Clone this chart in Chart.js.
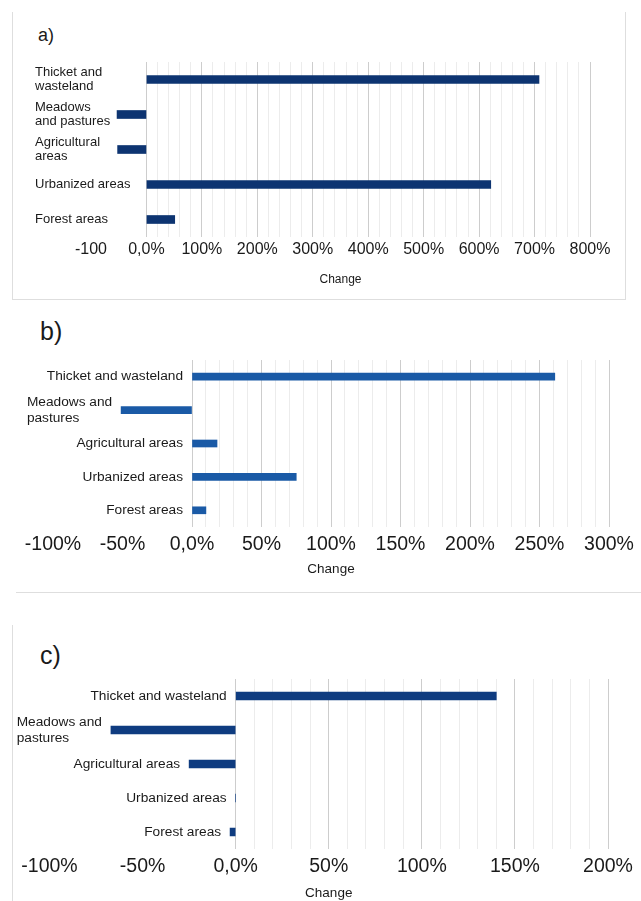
<!DOCTYPE html>
<html>
<head>
<meta charset="utf-8">
<script src="https://cdn.jsdelivr.net/npm/chart.js@4.4.1/dist/chart.umd.min.js"></script>
<style>
  html, body { margin: 0; padding: 0; background: #fff; }
  body { width: 641px; height: 901px; position: relative; overflow: hidden; font-family: 'Liberation Sans', Arial, sans-serif; }
  canvas { position: absolute; left: 0; }
  .regua { position: absolute; background: #dedede; }
  .letra { position: absolute; color: #1a1a1a; line-height: 1; }
</style>
</head>
<body>
<div class="regua" style="left:12px;top:12px;width:1px;height:287px"></div>
<div class="regua" style="left:625px;top:12px;width:1px;height:287px"></div>
<div class="regua" style="left:12px;top:299px;width:614px;height:1px"></div>
<div class="regua" style="left:16px;top:592px;width:625px;height:1px"></div>
<div class="regua" style="left:12px;top:625px;width:1px;height:276px"></div>

<div class="letra" style="left:38px;top:26px;font-size:18px">a)</div>
<div class="letra" style="left:40px;top:319px;font-size:25px">b)</div>
<div class="letra" style="left:40px;top:643px;font-size:25px">c)</div>

<canvas id="graficoA" width="641" height="300" style="top:0px"></canvas>
<canvas id="graficoB" width="641" height="292" style="top:300px"></canvas>
<canvas id="graficoC" width="641" height="301" style="top:600px"></canvas>

<script>
// categorias (de cima para baixo)
const categoriasA = [['Thicket and', 'wasteland'], ['Meadows', 'and pastures'], ['Agricultural', 'areas'], 'Urbanized areas', 'Forest areas'];
const categoriasBC = ['Thicket and wasteland', ['Meadows and', 'pastures'], 'Agricultural areas', 'Urbanized areas', 'Forest areas'];

// variação (%)
const variacaoA = [708, -53, -52, 621, 51];
const variacaoB = [261, -51, 18, 75, 10];
const variacaoC = [140, -67, -25, 0, -3];

// rótulos do eixo x
const ticksA = ['-100', '0,0%', '100%', '200%', '300%', '400%', '500%', '600%', '700%', '800%'];
const ticksB = ['-100%', '-50%', '0,0%', '50%', '100%', '150%', '200%', '250%', '300%'];
const ticksC = ['-100%', '-50%', '0,0%', '50%', '100%', '150%', '200%'];

const FONTE = "'Liberation Sans', Arial, sans-serif";

// desenha os nomes das categorias ao lado das barras
const rotulos = {
  id: 'rotulos',
  afterDraw(chart, args, opts) {
    const { ctx } = chart;
    const x = chart.scales.x, y = chart.scales.y;
    const valores = chart.data.datasets[0].data;
    ctx.save();
    ctx.font = `${opts.tamanho}px ${FONTE}`;
    ctx.fillStyle = '#1a1a1a';
    ctx.textBaseline = 'middle';
    ctx.textAlign = 'left';
    chart.data.labels.forEach((lab, i) => {
      const linhas = Array.isArray(lab) ? lab : [lab];
      const larg = Math.max(...linhas.map(l => ctx.measureText(l).width));
      const esq = opts.modo === 'esquerda'
        ? opts.x
        : x.getPixelForValue(Math.min(0, valores[i])) - opts.gap - larg;
      const cy = y.getPixelForValue(i);
      linhas.forEach((l, k) => ctx.fillText(l, esq, cy + (k - (linhas.length - 1) / 2) * opts.lh));
    });
    ctx.restore();
  }
};

function criar(id, cfg) {
  const ctx = document.getElementById(id);
  const { min, max, passo, maior, rotulosX } = cfg;
  new Chart(ctx, {
    type: 'bar',
    data: {
      labels: cfg.labels,
      datasets: [{
        data: cfg.dados,
        backgroundColor: cfg.cor,
        borderWidth: 0,
        barThickness: cfg.espessura
      }]
    },
    plugins: [rotulos],
    options: {
      indexAxis: 'y',
      responsive: false,
      animation: false,
      devicePixelRatio: 1,
      layout: { padding: { left: cfg.area.esq, right: 641 - cfg.area.dir, top: cfg.area.topo, bottom: 0 } },
      plugins: {
        legend: { display: false },
        tooltip: { enabled: false },
        rotulos: cfg.rotulos
      },
      scales: {
        y: { display: false },
        x: {
          min, max,
          afterFit: (s) => { s.height = cfg.alturaEixo; },
          border: { display: false },
          grid: {
            drawTicks: false,
            color: (c) => {
              const v = c.tick ? c.tick.value : undefined;
              if (v === undefined || v < 0) return 'rgba(0,0,0,0)';
              return v % maior === 0 ? '#cdcdcd' : '#ececec';
            }
          },
          ticks: {
            stepSize: passo,
            autoSkip: false,
            maxRotation: 0,
            minRotation: 0,
            padding: cfg.padTicks,
            color: '#1a1a1a',
            font: { family: FONTE, size: cfg.fonteTicks },
            callback: (v) => v % maior === 0 ? rotulosX[Math.round((v - min) / maior)] : ''
          },
          title: {
            display: true,
            text: 'Change',
            color: '#1a1a1a',
            font: { family: FONTE, size: cfg.fonteTitulo },
            padding: { top: 0, bottom: cfg.padTitulo }
          }
        }
      }
    }
  });
}

criar('graficoA', {
  labels: categoriasA, dados: variacaoA, cor: '#0d3471', espessura: 8,
  min: -100, max: 800, passo: 20, maior: 100, rotulosX: ticksA,
  area: { esq: 91, dir: 590, topo: 62 }, alturaEixo: 63,
  padTicks: 3.4, fonteTicks: 16, fonteTitulo: 12, padTitulo: 12.8,
  rotulos: { modo: 'esquerda', x: 35, tamanho: 13, lh: 14 }
});

criar('graficoB', {
  labels: categoriasBC, dados: variacaoB, cor: '#1a5aa6', espessura: 7,
  min: -100, max: 300, passo: 10, maior: 50, rotulosX: ticksB,
  area: { esq: 53, dir: 609, topo: 60 }, alturaEixo: 65,
  padTicks: 6.3, fonteTicks: 19.5, fonteTitulo: 13.5, padTitulo: 15,
  rotulos: { modo: 'ancora', gap: 9, tamanho: 13.7, lh: 16 }
});

criar('graficoC', {
  labels: categoriasBC, dados: variacaoC, cor: '#0f3c80', espessura: 8,
  min: -100, max: 200, passo: 10, maior: 50, rotulosX: ticksC,
  area: { esq: 49.5, dir: 608, topo: 79 }, alturaEixo: 52,
  padTicks: 6.3, fonteTicks: 19.5, fonteTitulo: 13.5, padTitulo: 0,
  rotulos: { modo: 'ancora', gap: 9, tamanho: 13.7, lh: 16 }
});
</script>
</body>
</html>
